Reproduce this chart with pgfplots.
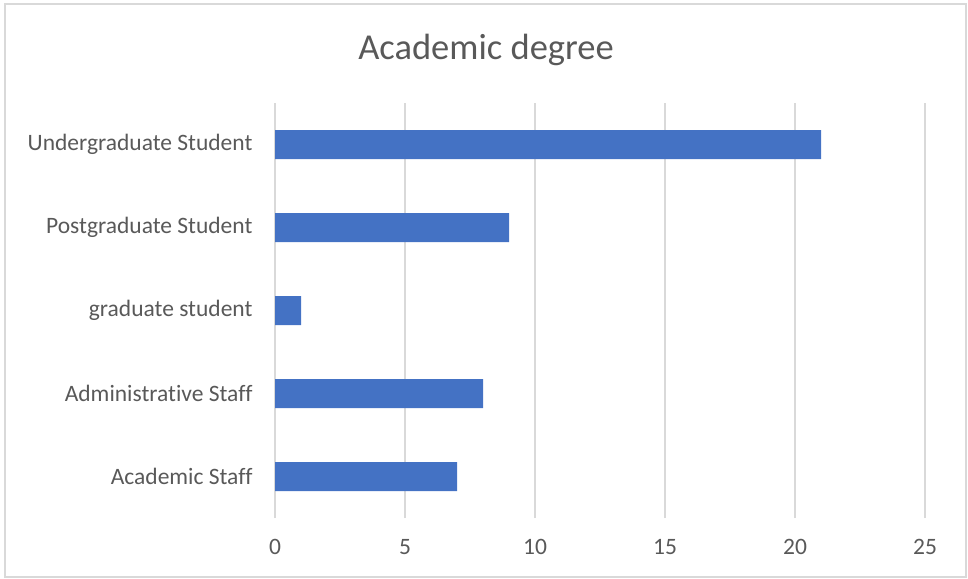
\documentclass[border=0pt]{standalone}
\usepackage{fontspec}
\setmainfont{Carlito}[Ligatures=NoCommon]
\usepackage{pgfplots}
\pgfplotsset{compat=1.18}
\definecolor{barblue}{HTML}{4472C4}
\definecolor{gridgray}{HTML}{D9D9D9}
\definecolor{txt}{HTML}{595959}
\begin{document}
\begin{tikzpicture}
\path (0pt,0pt) rectangle (968pt,578pt);
\draw[gridgray, line width=1.3pt] (5pt,1pt) rectangle (966pt,574pt);
\node[text=txt, font=\fontsize{36.5}{40}\selectfont] at (486pt,528pt) {Academic degree};
\coordinate (A) at (275pt,60pt);
\begin{axis}[at={(A)}, anchor=south west, scale only axis,
  width=650pt, height=415pt,
  xbar, bar width=29pt,
  xmin=0, xmax=25, ymin=-0.5, ymax=4.5,
  ytick={0,1,2,3,4},
  yticklabels={Academic Staff, {Administrat\kern0pt{}ive Staff}, graduate student, Postgraduate Student, Undergraduate Student},
  xtick={0,5,10,15,20,25},
  xmajorgrids, grid style={gridgray, line width=1.3pt},
  axis line style={draw=none},
  major tick length=0pt,
  /pgf/number format/assume math mode=true,
  ticklabel style={font=\fontsize{23.5}{26}\selectfont, text=txt},
  xticklabel style={yshift=-18pt},
  yticklabel style={xshift=-19pt},
]
\addplot[fill=barblue, draw=none] coordinates {(7,0) (8,1) (1,2) (9,3) (21,4)};
\end{axis}
\end{tikzpicture}
\end{document}
